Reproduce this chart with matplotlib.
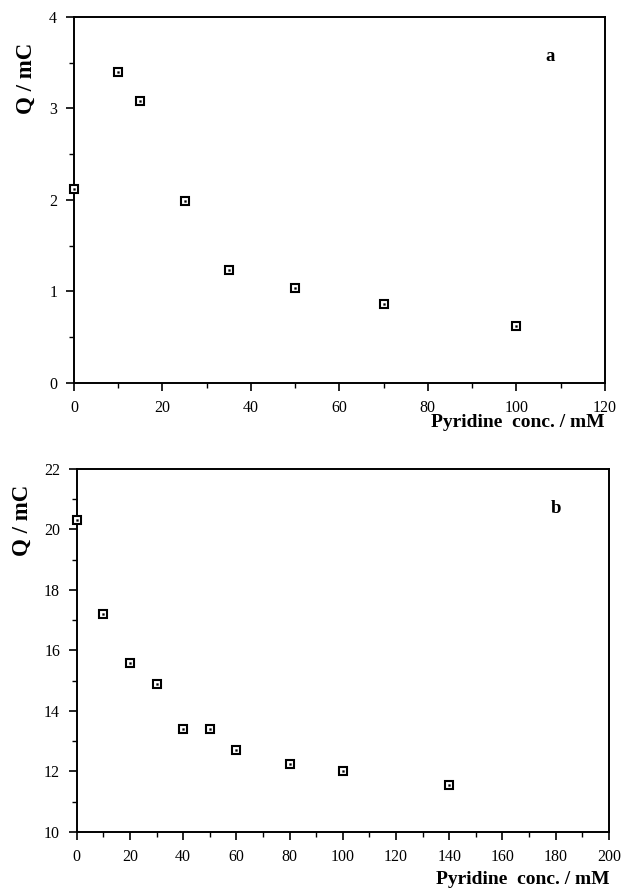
import numpy as np
import matplotlib.pyplot as plt
from matplotlib.ticker import MultipleLocator

plt.rcParams['font.family'] = ['Liberation Serif', 'DejaVu Serif']

# panel a
conc_a = [0, 10, 15, 25, 35, 50, 70, 100]
charge_a = [2.12, 3.40, 3.08, 1.99, 1.24, 1.04, 0.86, 0.62]

# panel b
conc_b = [0, 10, 20, 30, 40, 50, 60, 80, 100, 140]
charge_b = [20.3, 17.2, 15.6, 14.9, 13.4, 13.4, 12.7, 12.25, 12.0, 11.55]

fig = plt.figure(figsize=(6.21, 8.94), dpi=100)
ax1 = fig.add_axes([0.119, 0.5716, 0.855, 0.4094])
ax2 = fig.add_axes([0.1235, 0.0694, 0.857, 0.406])


def draw_points(ax, x, y):
    ax.plot(x, y, ls='none', marker='s', ms=6, mfc='white', mec='black',
            mew=1.5, clip_on=False, zorder=3)
    ax.plot(x, y, ls='none', marker='s', ms=1.3, mfc='black', mec='black',
            mew=0.3, clip_on=False, zorder=4)


def style_axes(ax):
    for s in ax.spines.values():
        s.set_linewidth(1.4)
    ax.tick_params(which='major', direction='out', length=6, width=1.2,
                   labelsize=11.5, pad=6)
    ax.tick_params(which='minor', direction='out', length=3.5, width=1.0)
    ax.tick_params(top=False, right=False)


draw_points(ax1, conc_a, charge_a)
ax1.set_xlim(0, 120)
ax1.set_ylim(0, 4)
ax1.set_xticks(np.arange(0, 121, 20))
ax1.set_yticks(np.arange(0, 5, 1))
ax1.xaxis.set_minor_locator(MultipleLocator(10))
ax1.yaxis.set_minor_locator(MultipleLocator(0.5))
style_axes(ax1)
ax1.text(0.896, 0.891, 'a', transform=ax1.transAxes, fontsize=13.5,
         fontweight='bold', ha='center', va='center')
fig.text(0.042, 0.912, 'Q / mC', rotation=90, fontsize=16.5, fontweight='bold',
         ha='center', va='center')
fig.text(0.974, 0.527, 'Pyridine  conc. / mM', fontsize=14,
         fontweight='bold', ha='right', va='center')

draw_points(ax2, conc_b, charge_b)
ax2.set_xlim(0, 200)
ax2.set_ylim(10, 22)
ax2.set_xticks(np.arange(0, 201, 20))
ax2.set_yticks(np.arange(10, 23, 2))
ax2.xaxis.set_minor_locator(MultipleLocator(10))
ax2.yaxis.set_minor_locator(MultipleLocator(1))
style_axes(ax2)
ax2.text(0.9, 0.89, 'b', transform=ax2.transAxes, fontsize=13.5,
         fontweight='bold', ha='center', va='center')
fig.text(0.036, 0.418, 'Q / mC', rotation=90, fontsize=16.5, fontweight='bold',
         ha='center', va='center')
fig.text(0.981, 0.016, 'Pyridine  conc. / mM', fontsize=14,
         fontweight='bold', ha='right', va='center')

fig.savefig('out.png', dpi=100)
